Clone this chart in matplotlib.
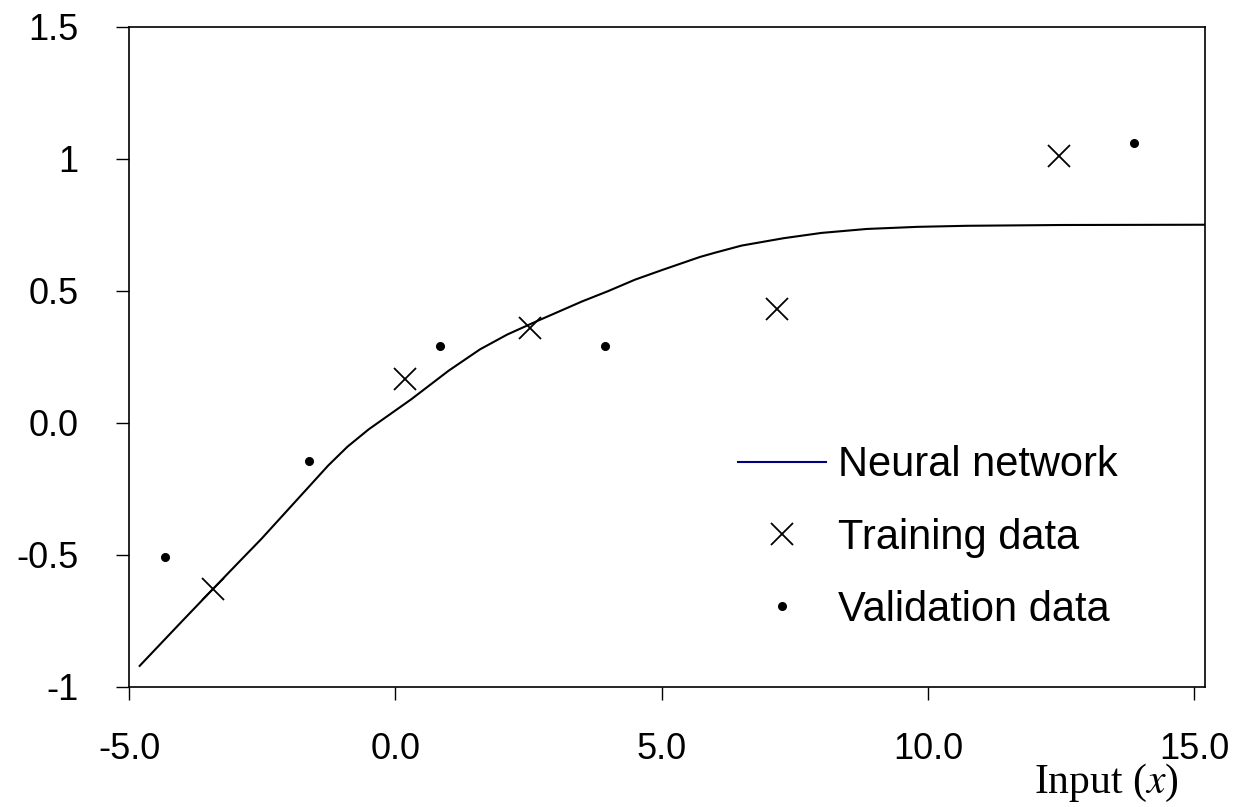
import matplotlib
matplotlib.use("Agg")
import matplotlib.pyplot as plt
from matplotlib.lines import Line2D

plt.rcParams['font.family'] = ['Liberation Sans', 'DejaVu Sans']
plt.rcParams['mathtext.fontset'] = 'stix'

# network output
net_x = [-4.80, -4.00, -3.43, -3.00, -2.51, -2.00, -1.26, -0.90, -0.50, 0.30,
         1.00, 1.59, 2.10, 2.66, 3.50, 4.00, 4.50, 5.03, 5.72, 6.00,
         6.50, 7.29, 8.00, 8.85, 9.80, 10.73, 12.50, 15.20]
net_y = [-0.92, -0.75, -0.63, -0.54, -0.438, -0.325, -0.161, -0.09, -0.024, 0.09,
         0.198, 0.279, 0.335, 0.386, 0.46, 0.50, 0.543, 0.581, 0.629, 0.645,
         0.672, 0.70, 0.72, 0.735, 0.743, 0.747, 0.750, 0.751]

train_x = [-3.43, 0.19, 2.52, 7.16, 12.45]
train_y = [-0.63, 0.167, 0.36, 0.432, 1.01]

valid_x = [-4.33, -1.63, 0.83, 3.93, 13.86]
valid_y = [-0.508, -0.143, 0.29, 0.29, 1.062]

xticks = [-5, 0, 5, 10, 15]
xticklabels = ['-5.0', '0.0', '5.0', '10.0', '15.0']
yticks = [-1, -0.5, 0, 0.5, 1, 1.5]
yticklabels = ['-1', '-0.5', '0.0', '0.5', '1', '1.5']

fig = plt.figure(figsize=(12.35, 8.07), dpi=100)
ax = fig.add_axes([129 / 1235, 1 - 687 / 807, 1076 / 1235, 660 / 807])

ax.plot(net_x, net_y, color='black', lw=1.5)
ax.plot(train_x, train_y, ls='none', marker='x', ms=15.5, mew=1.3, color='black')
ax.plot(valid_x, valid_y, ls='none', marker='o', ms=5.5, color='black')

ax.set_xlim(-5, 15.2)
ax.set_ylim(-1, 1.5)
ax.set_xticks(xticks)
ax.set_xticklabels(xticklabels)
ax.set_yticks(yticks)
ax.set_yticklabels(yticklabels)
ax.tick_params(axis='both', direction='out', length=9.5, width=1, labelsize=26)
ax.tick_params(axis='y', pad=27)
ax.tick_params(axis='x', pad=23)
for s in ax.spines.values():
    s.set_linewidth(1.2)

ax.set_xlabel('Input ($x$)', fontsize=30, family='Liberation Serif', va='center')
ax.xaxis.set_label_coords(0.908, -0.146)

handles = [
    Line2D([], [], color='navy', lw=1.5),
    Line2D([], [], ls='none', marker='x', ms=15.5, mew=1.3, color='black'),
    Line2D([], [], ls='none', marker='o', ms=5.5, color='black'),
]
ax.legend(handles, ['Neural network', 'Training data', 'Validation data'],
          loc='upper left', bbox_to_anchor=(0.566, 0.366), frameon=False,
          fontsize=30, handlelength=2.1, handletextpad=0.3, labelspacing=0.77,
          borderpad=0, borderaxespad=0, numpoints=1)

fig.savefig('out.png', dpi=100)
